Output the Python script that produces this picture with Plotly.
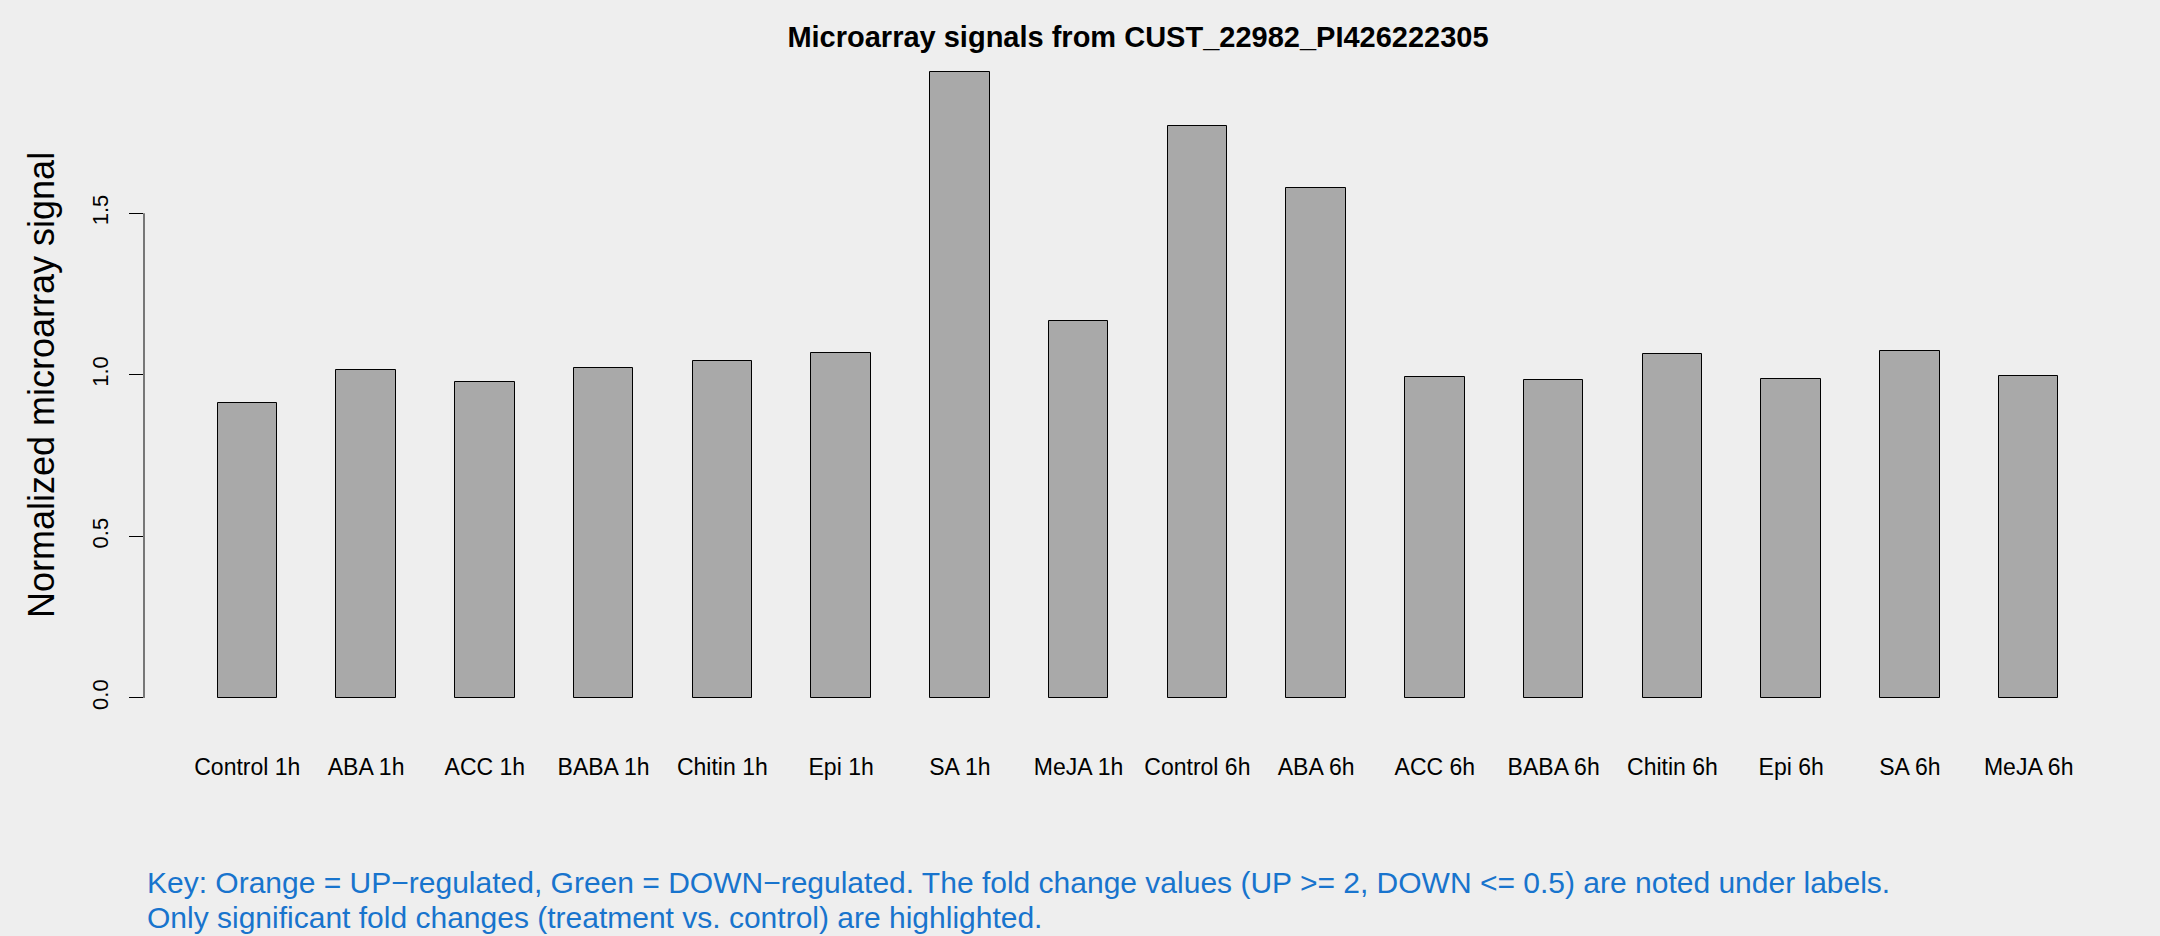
import plotly.graph_objects as go

categories = ["Control 1h", "ABA 1h", "ACC 1h", "BABA 1h", "Chitin 1h", "Epi 1h", "SA 1h", "MeJA 1h",
              "Control 6h", "ABA 6h", "ACC 6h", "BABA 6h", "Chitin 6h", "Epi 6h", "SA 6h", "MeJA 6h"]
values = [0.912, 1.014, 0.977, 1.021, 1.043, 1.069, 1.937, 1.168,
          1.769, 1.578, 0.992, 0.985, 1.064, 0.986, 1.075, 0.996]
y_ticks = [0.0, 0.5, 1.0, 1.5]
y_ticklabels = ["0.0", "0.5", "1.0", "1.5"]

title_text = "Microarray signals from CUST_22982_PI426222305"
ylab = "Normalized microarray signal"
key1 = "Key: Orange = UP\u2212regulated, Green = DOWN\u2212regulated. The fold change values (UP >= 2, DOWN <= 0.5) are noted under labels."
key2 = "Only significant fold changes (treatment vs. control) are highlighted."

# R barplot geometry: width 1, space 1 -> centers at 1.5, 3.5, ...
xpos = [1.5 + 2 * i for i in range(len(categories))]
xmin, xmax = 1.0, 2.0 * len(categories)
xpad = 0.04 * (xmax - xmin)
ymax = max(values)
ypad = 0.04 * ymax

FONT = "Liberation Sans, Arial, Helvetica, sans-serif"
W, H = 2160, 936
ML, MR, MT, MB = 144, 28, 47, 213

fig = go.Figure()
fig.add_trace(go.Bar(
    x=xpos, y=values, width=1.0,
    marker=dict(color="#A9A9A9", line=dict(color="black", width=1)),
    showlegend=False, hoverinfo="x+y",
))

fig.update_layout(
    width=W, height=H,
    margin=dict(l=ML, r=MR, t=MT, b=MB, pad=0),
    paper_bgcolor="#EEEEEE", plot_bgcolor="#EEEEEE",
    font=dict(family=FONT, color="black"),
    title=dict(text="<b>" + title_text + "</b>", x=0.5, xref="paper", xanchor="center",
               y=1 - 37 / H, yref="container", yanchor="middle",
               font=dict(size=29, family=FONT, color="black")),
    xaxis=dict(range=[xmin - xpad, xmax + xpad], tickvals=xpos, ticktext=categories,
               showgrid=False, zeroline=False, showline=False, ticks="",
               tickfont=dict(size=23, family=FONT, color="black"),
               ticklabelstandoff=28, fixedrange=True),
    yaxis=dict(range=[-ypad, ymax + ypad], tickvals=y_ticks, ticktext=y_ticklabels,
               showgrid=False, zeroline=False, showline=False,
               ticks="outside", ticklen=14, tickwidth=1, tickcolor="black",
               tickangle=-90, tickfont=dict(size=22, family=FONT, color="black"),
               ticklabelstandoff=12, fixedrange=True),
    bargap=0,
)

# y axis line from first to last tick (R style)
fig.add_shape(type="line", xref="paper", yref="y", x0=0, x1=0, y0=y_ticks[0], y1=y_ticks[-1],
              line=dict(color="black", width=1))

plot_w = W - ML - MR
plot_h = H - MT - MB

fig.add_annotation(text=ylab, textangle=-90, xref="paper", yref="paper",
                   x=(41 - ML) / plot_w, y=0.5, xanchor="center", yanchor="middle",
                   showarrow=False, font=dict(size=36, family=FONT, color="black"))

fig.add_annotation(text=key1, xref="paper", yref="paper",
                   x=(145 - ML) / plot_w, y=(H - MB - 882) / plot_h,
                   xanchor="left", yanchor="middle", showarrow=False,
                   font=dict(size=30, family=FONT, color="#1874CD"))
fig.add_annotation(text=key2, xref="paper", yref="paper",
                   x=(145 - ML) / plot_w, y=(H - MB - 917) / plot_h,
                   xanchor="left", yanchor="middle", showarrow=False,
                   font=dict(size=30, family=FONT, color="#1874CD"))

fig.write_html(
    "out.html",
    config={"displayModeBar": False},
    post_script="document.body.style.margin='0';document.body.style.background='#EEEEEE';"
                "document.documentElement.style.overflow='hidden';",
)
